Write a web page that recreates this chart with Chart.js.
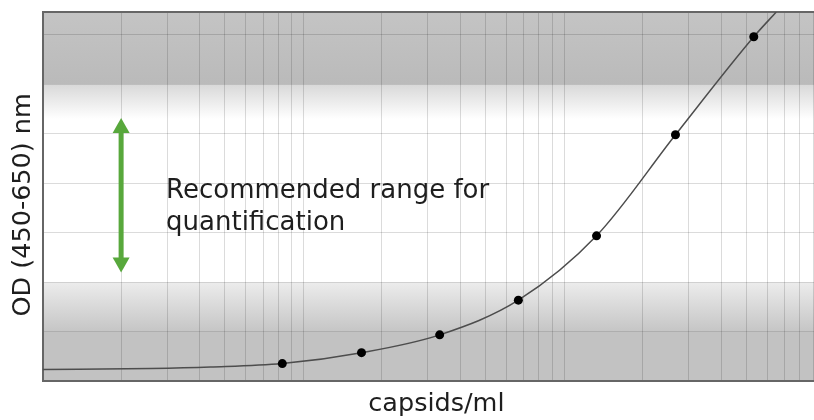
<!DOCTYPE html>
<html>
<head>
<meta charset="utf-8">
<script src="https://cdn.jsdelivr.net/npm/chart.js@4"></script>
<style>
  body { margin: 0; background: #fff; }
  #wrap { width: 814px; height: 420px; }
</style>
</head>
<body>
<div id="wrap"><canvas id="elisaChart"></canvas></div>
<script>
// standard dilutions (capsids/ml) and measured OD
const concentrations = [8.3e7, 1.67e8, 3.33e8, 6.67e8, 1.33e9, 2.67e9, 5.33e9];
const odValues = [0.18, 0.29, 0.47, 0.82, 1.47, 2.49, 3.48];

// fitted curve
const fitX = [1e7, 2.6e7, 4.4e7, 8.3e7, 1.67e8, 3.33e8, 6.67e8, 1.33e9, 2.67e9, 5.33e9, 6.5e9];
const fitY = [0.12, 0.13, 0.145, 0.18, 0.29, 0.47, 0.82, 1.47, 2.49, 3.48, 3.73];

// axis ranges and grid
const xMin = 1e7, xMax = 9.07e9;
const yMin = 0, yMax = 3.73;
const xGridTicks = [];
for (let e = 7; e <= 9; e++) {
    for (let m = 1; m <= 9; m++) xGridTicks.push(m * Math.pow(10, e));
}

// recommended range (OD) and band edges
const rangeLow = 1.1, rangeHigh = 2.66;
const bandLow = 1.0, bandHigh = 3.0;
const noteLines = ['Recommended range for', 'quantification'];

const FONT = '"DejaVu Sans", sans-serif';

const backgroundBands = {
    id: 'backgroundBands',
    beforeDraw(chart) {
        const { ctx, chartArea: a, scales: { y } } = chart;
        ctx.save();
        ctx.fillStyle = '#ffffff';
        ctx.fillRect(a.left, a.top, a.right - a.left, a.bottom - a.top);

        // top gray band
        const yHi = y.getPixelForValue(bandHigh);
        let g = ctx.createLinearGradient(0, a.top, 0, yHi);
        g.addColorStop(0, '#c4c4c4');
        g.addColorStop(1, '#bababa');
        ctx.fillStyle = g;
        ctx.fillRect(a.left, a.top, a.right - a.left, yHi - a.top);
        const yHiFade = y.getPixelForValue(bandHigh - 0.35);
        g = ctx.createLinearGradient(0, yHi, 0, yHiFade);
        g.addColorStop(0, '#d8d8d8');
        g.addColorStop(1, '#ffffff');
        ctx.fillStyle = g;
        ctx.fillRect(a.left, yHi, a.right - a.left, yHiFade - yHi);

        // bottom gray band
        const yLo = y.getPixelForValue(bandLow);
        const yLoDark = y.getPixelForValue(bandLow - 0.5);
        g = ctx.createLinearGradient(0, yLo, 0, yLoDark);
        g.addColorStop(0, '#ececec');
        g.addColorStop(1, '#c5c5c5');
        ctx.fillStyle = g;
        ctx.fillRect(a.left, yLo, a.right - a.left, yLoDark - yLo);
        ctx.fillStyle = '#c2c2c2';
        ctx.fillRect(a.left, yLoDark, a.right - a.left, a.bottom - yLoDark);
        ctx.restore();
    }
};

const rangeNote = {
    id: 'rangeNote',
    afterDatasetsDraw(chart) {
        const { ctx, scales: { x, y } } = chart;
        const ax = x.getPixelForValue(2e7);
        const top = y.getPixelForValue(rangeHigh);
        const bot = y.getPixelForValue(rangeLow);
        ctx.save();
        ctx.fillStyle = '#58a83c';
        ctx.fillRect(ax - 2.5, top + 12, 5, bot - top - 24);
        ctx.beginPath();
        ctx.moveTo(ax, top);
        ctx.lineTo(ax + 8.5, top + 15);
        ctx.lineTo(ax - 8.5, top + 15);
        ctx.closePath();
        ctx.fill();
        ctx.beginPath();
        ctx.moveTo(ax, bot);
        ctx.lineTo(ax + 8.5, bot - 15);
        ctx.lineTo(ax - 8.5, bot - 15);
        ctx.closePath();
        ctx.fill();

        ctx.fillStyle = '#1e1e1e';
        ctx.font = '26px ' + FONT;
        ctx.textBaseline = 'alphabetic';
        const tx = x.getPixelForValue(3e7) - 1;
        ctx.fillText(noteLines[0], tx, y.getPixelForValue(1.855));
        ctx.fillText(noteLines[1], tx, y.getPixelForValue(1.53));
        ctx.restore();
    }
};

const gridColor = 'rgba(0, 0, 0, 0.14)';

new Chart(document.getElementById('elisaChart'), {
    type: 'line',
    data: {
        datasets: [{
            label: 'Standards',
            data: concentrations.map((c, i) => ({ x: c, y: odValues[i] })),
            showLine: false,
            pointRadius: 4.5,
            pointBackgroundColor: '#000',
            pointBorderWidth: 0
        }, {
            label: 'Fit',
            data: fitX.map((c, i) => ({ x: c, y: fitY[i] })),
            borderColor: '#4d4d4d',
            borderWidth: 1.5,
            pointRadius: 0,
            cubicInterpolationMode: 'monotone',
            fill: false
        }]
    },
    options: {
        responsive: true,
        maintainAspectRatio: false,
        animation: false,
        layout: { autoPadding: false, padding: { top: 12, left: 4, right: 0, bottom: 0 } },
        plugins: {
            legend: { display: false },
            tooltip: { enabled: false }
        },
        scales: {
            x: {
                type: 'logarithmic',
                min: xMin,
                max: xMax,
                afterBuildTicks: (scale) => {
                    scale.ticks = xGridTicks.map(v => ({ value: v }));
                },
                ticks: { display: false },
                grid: { color: gridColor, drawTicks: false },
                border: { color: '#666', width: 2 },
                title: {
                    display: true,
                    text: '  capsids/ml',
                    color: '#1e1e1e',
                    font: { family: FONT, size: 25.5 },
                    padding: { top: 8, bottom: 0 }
                }
            },
            y: {
                min: yMin,
                max: yMax,
                ticks: { display: false, stepSize: 0.5 },
                grid: {
                    drawTicks: false,
                    color: (c) => c.tick && c.tick.value >= yMax ? '#666' : gridColor,
                    lineWidth: (c) => c.tick && c.tick.value >= yMax ? 2 : 1
                },
                border: { color: '#666', width: 2 },
                title: {
                    display: true,
                    text: 'OD (450-650) nm  ',
                    color: '#1e1e1e',
                    font: { family: FONT, size: 25.5 },
                    padding: { top: 4, bottom: 4 }
                }
            }
        }
    },
    plugins: [backgroundBands, rangeNote]
});
</script>
</body>
</html>
